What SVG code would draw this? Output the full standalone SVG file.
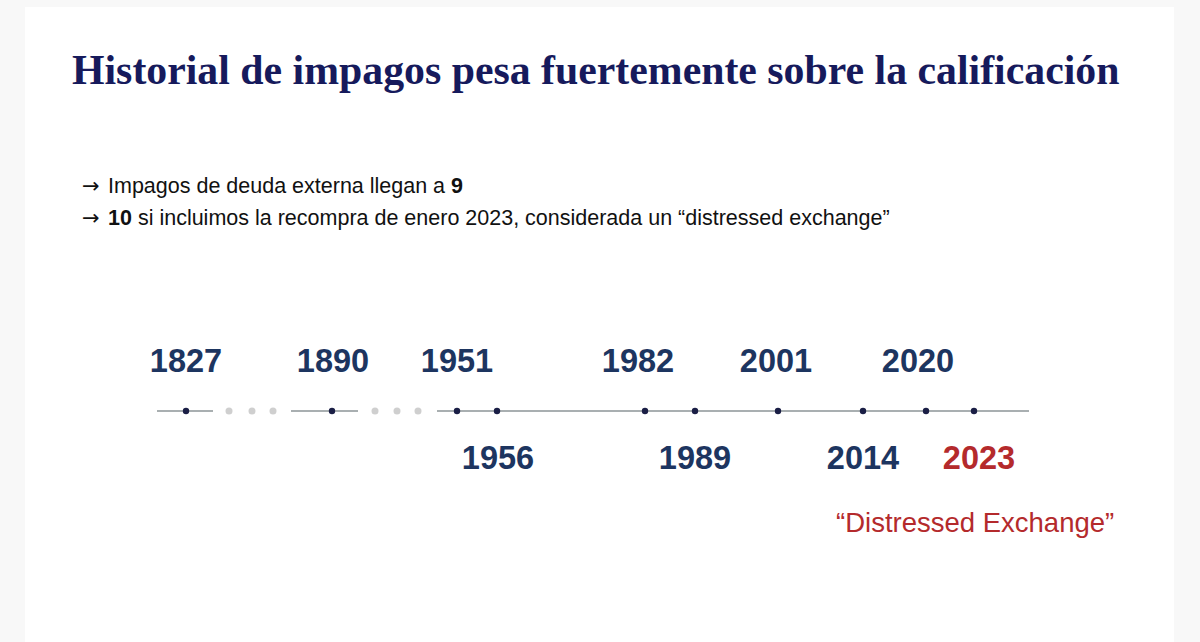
<svg xmlns="http://www.w3.org/2000/svg" width="1200" height="642" viewBox="0 0 1200 642">
<style>
.title{font-family:"Liberation Serif","Times New Roman",serif;font-weight:bold;font-size:41.8px;fill:#161a5c}
.bul{font-family:"Liberation Sans",Arial,sans-serif;font-size:21.5px;fill:#111}
.arr{font-family:"DejaVu Sans",sans-serif;font-size:21px;fill:#111}
.yr{font-family:"Liberation Sans",Arial,sans-serif;font-weight:bold;font-size:32.5px;fill:#1d3560;text-anchor:middle}
.red{fill:#b42a2c}
.ln{stroke:#8c9597;stroke-width:1.5;fill:none}
.dot{fill:#1a1e45}
.gdot{fill:#cfcfcf}
</style>
<rect x="0" y="0" width="1200" height="642" fill="#f8f8f8"/>
<rect x="25" y="7" width="1149" height="635" fill="#ffffff"/>
<text class="title" x="72" y="84">Historial de impagos pesa fuertemente sobre la calificación</text>
<text class="arr" x="82" y="193">→</text>
<text class="bul" x="108" y="193">Impagos de deuda externa llegan a <tspan font-weight="bold">9</tspan></text>
<text class="arr" x="82" y="225">→</text>
<text class="bul" x="108" y="225"><tspan font-weight="bold">10</tspan> si incluimos la recompra de enero 2023, considerada un “distressed exchange”</text>
<g id="connectors">
<line class="ln" x1="157" y1="411" x2="213" y2="411"/>
<line class="ln" x1="291" y1="411" x2="358" y2="411"/>
<line class="ln" x1="437" y1="411" x2="1029" y2="411"/>
<circle class="gdot" cx="229" cy="411" r="3.5"/>
<circle class="gdot" cx="252" cy="411" r="3.5"/>
<circle class="gdot" cx="273" cy="411" r="3.5"/>
<circle class="gdot" cx="375" cy="411" r="3.5"/>
<circle class="gdot" cx="397" cy="411" r="3.5"/>
<circle class="gdot" cx="418" cy="411" r="3.5"/>
</g>
<g id="n1827"><circle class="dot" cx="186" cy="411" r="3.2"/><text class="yr" x="186" y="372">1827</text></g>
<g id="n1890"><circle class="dot" cx="332" cy="411" r="3.2"/><text class="yr" x="333" y="372">1890</text></g>
<g id="n1951"><circle class="dot" cx="457" cy="411" r="3.2"/><text class="yr" x="457" y="372">1951</text></g>
<g id="n1956"><circle class="dot" cx="497" cy="411" r="3.2"/><text class="yr" x="498" y="469">1956</text></g>
<g id="n1982"><circle class="dot" cx="645" cy="411" r="3.2"/><text class="yr" x="638" y="372">1982</text></g>
<g id="n1989"><circle class="dot" cx="695" cy="411" r="3.2"/><text class="yr" x="695" y="469">1989</text></g>
<g id="n2001"><circle class="dot" cx="778" cy="411" r="3.2"/><text class="yr" x="776" y="372">2001</text></g>
<g id="n2014"><circle class="dot" cx="863" cy="411" r="3.2"/><text class="yr" x="863" y="469">2014</text></g>
<g id="n2020"><circle class="dot" cx="926" cy="411" r="3.2"/><text class="yr" x="918" y="372">2020</text></g>
<g id="n2023"><circle class="dot red" cx="974" cy="411" r="3.2"/><text class="yr red" x="979" y="469">2023</text>
<text x="836" y="532" font-family="Liberation Sans,Arial,sans-serif" font-size="27.5" class="red">“Distressed Exchange”</text></g>
</svg>
